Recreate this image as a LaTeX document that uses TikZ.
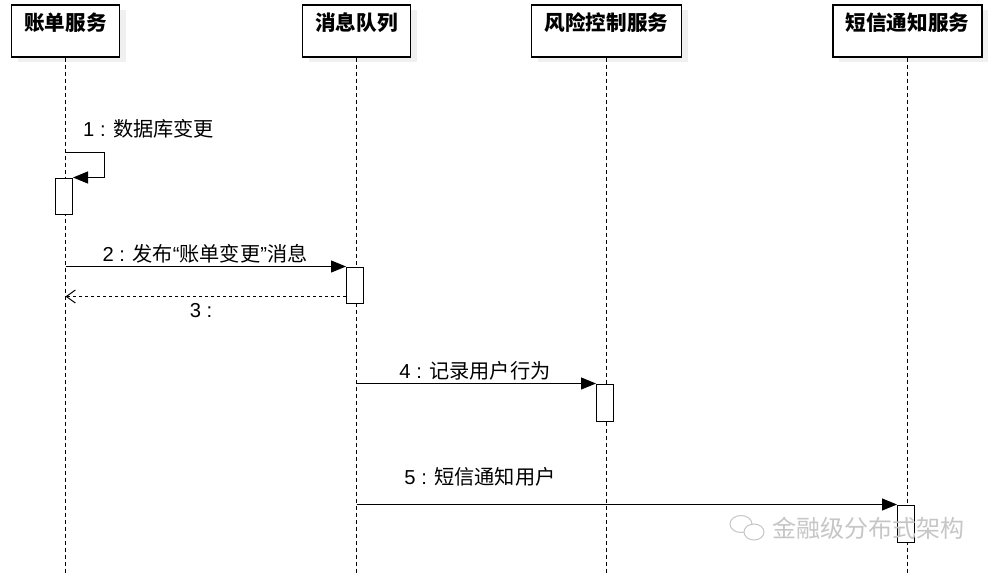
\documentclass[tikz,border=0pt]{standalone}
\usepackage{fontspec}
\setmainfont{Noto Sans CJK SC}
\newfontfamily\lat{Liberation Sans}
\usetikzlibrary{arrows.meta,calc,shadows}
\begin{document}
\begin{tikzpicture}[x=1pt,y=-1pt,
  participant/.style={draw, line width=1.2pt, fill=white, minimum width=#1, minimum height=52pt,
    text height=18pt, text depth=19pt, inner sep=0pt,
    font=\bfseries\fontsize{20.6}{24}\selectfont,
    drop shadow={shadow xshift=6pt, shadow yshift=-5pt, fill=gray!12, opacity=1}},
  activation/.style={draw, line width=1pt, fill=white, minimum width=17pt, minimum height=#1, inner sep=0pt},
  life/.style={line width=1pt, dash pattern=on 4pt off 3pt},
  msg/.style={line width=1pt, -{Triangle[length=15pt,width=12pt]}},
  ret/.style={line width=1pt, dash pattern=on 3pt off 3pt, -{Straight Barb[length=9pt,width=13pt,line width=1pt]}},
  lbl/.style={font=\fontsize{20.2}{23}\selectfont, inner sep=0pt},
  wmark/.style={font=\fontsize{24}{28}\selectfont, text=gray!45, inner sep=0pt}]
\useasboundingbox[fill=white] (0,0) rectangle (1000,573);

% participants
\node[participant=108pt] (p1) at (65.5,31) {账单服务};
\node[participant=108pt] (p2) at (356.5,31) {消息队列};
\node[participant=150pt] (p3) at (606.5,31) {风险控制服务};
\node[participant=149pt] (p4) at (907.5,31) {短信通知服务};

% lifelines
\coordinate (e1) at (65.5,573);
\coordinate (e2) at (356.5,573);
\coordinate (e3) at (606.5,573);
\coordinate (e4) at (907.5,573);
\draw[life] (p1) -- (e1);
\draw[life] (p2) -- (e2);
\draw[life] (p3) -- (e3);
\draw[life] (p4) -- (e4);

% activations
\node[activation=36pt] (a1) at (64,196) {};
\node[activation=36pt] (a2) at (355,285) {};
\node[activation=37pt] (a3) at (605,402.5) {};
\node[activation=37pt] (a4) at (906,523.5) {};

% messages
\coordinate (s1) at (p1 |- 0,152);
\draw[msg] (s1) -- ++(38.5,0) |- (a1.north east);
\draw[msg] (p1 |- a2.north) -- (a2.north west);
\coordinate (r3) at ($(a2.south west)+(0,-7)$);
\draw[ret] (r3) -- (p1 |- r3);
\draw[msg] (p2 |- a3.north) -- (a3.north west);
\draw[msg] (p2 |- a4.north) -- (a4.north west);

% labels
\node[lbl, anchor=west] (m1) at (83,129) {{\lat 1 : }数据库变更};
\node[lbl] (m2) at (205,254) {{\lat 2 : }发布{\lat “}账单变更{\lat ”}消息};
\node[lbl] (m3) at (201,311) {\lat 3 :};
\node[lbl] (m4) at (475,371) {{\lat 4 : }记录用户行为};
\node[lbl] (m5) at (480,477) {{\lat 5 : }短信通知用户};

% watermark
\draw[gray!45, line width=1pt] (741,524) ellipse [x radius=11pt, y radius=8.5pt];
\draw[gray!45, line width=1pt, fill=white] (754,532) ellipse [x radius=10pt, y radius=8pt];
\node[wmark] (wm) at (868,528) {金融级分布式架构};
\end{tikzpicture}
\end{document}
